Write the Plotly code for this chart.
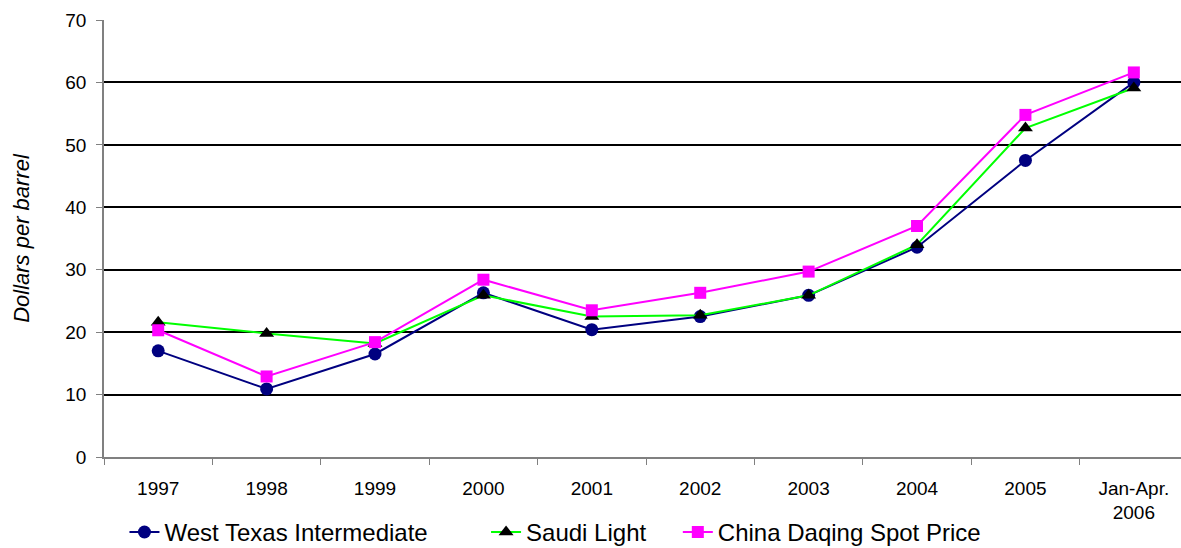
import plotly.graph_objects as go

categories = ["1997", "1998", "1999", "2000", "2001", "2002", "2003", "2004", "2005", "Jan-Apr.<br>2006"]
wti = [17.0, 10.9, 16.5, 26.3, 20.4, 22.5, 25.9, 33.6, 47.5, 60.0]
saudi = [21.6, 19.8, 18.2, 25.9, 22.5, 22.7, 25.9, 34.0, 52.7, 59.1]
daqing = [20.3, 12.9, 18.4, 28.4, 23.5, 26.3, 29.7, 37.0, 54.8, 61.6]

NB = "\u00a0"
fig = go.Figure()
fig.add_trace(go.Scatter(x=categories, y=wti, name="West Texas Intermediate" + NB * 8, mode="lines+markers",
                         line=dict(color="#000080", width=2),
                         marker=dict(symbol="circle", size=13, color="#000080")))
fig.add_trace(go.Scatter(x=categories, y=saudi, name="Saudi Light" + NB * 4, mode="lines+markers",
                         line=dict(color="#00FF00", width=2),
                         marker=dict(symbol="triangle-up", size=13, color="#000000")))
fig.add_trace(go.Scatter(x=categories, y=daqing, name="China Daqing Spot Price", mode="lines+markers",
                         line=dict(color="#FF00FF", width=2),
                         marker=dict(symbol="square", size=12, color="#FF00FF")))

fig.update_layout(
    width=1181, height=548,
    margin=dict(l=104, r=0, t=20, b=91, autoexpand=False),
    plot_bgcolor="white", paper_bgcolor="white",
    font=dict(family="Liberation Sans, Arial, sans-serif", size=19, color="black"),
    showlegend=True,
    legend=dict(orientation="h", x=0.019, xanchor="left", y=-0.121, yanchor="top",
                font=dict(size=24), itemwidth=30, tracegroupgap=0),
    xaxis=dict(type="category", range=[-0.5, 9.435], tickson="boundaries", ticks="outside", ticklen=6,
               tickcolor="#808080", showline=True, linecolor="#808080", linewidth=1.5,
               showgrid=False, tickfont=dict(size=19), ticklabelstandoff=13, automargin=False),
    yaxis=dict(range=[0, 70], dtick=10, showgrid=True, gridcolor="black", gridwidth=1.5,
               showline=True, linecolor="#808080", linewidth=1.5, ticks="outside", ticklen=6,
               tickcolor="#808080", zeroline=False, tickfont=dict(size=19), ticklabelstandoff=6,
               automargin=False,
               title=dict(text="<i>Dollars per barrel</i>", font=dict(size=22), standoff=30)),
)

fig.write_html("out.html")
